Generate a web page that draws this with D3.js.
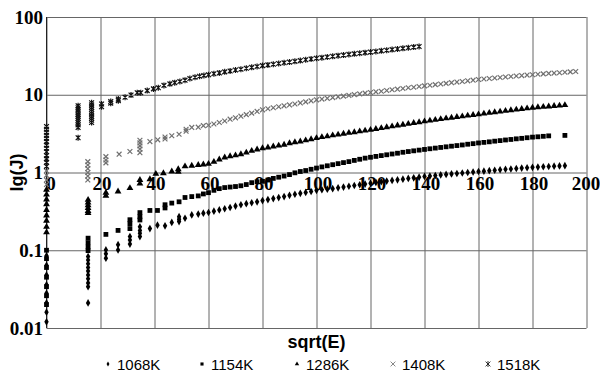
<!DOCTYPE html>
<html>
<head>
<meta charset="utf-8">
<script src="https://cdn.jsdelivr.net/npm/d3@7"></script>
<style>
  body { margin: 0; background: #fff; }
  svg { display: block; }
  .tick text { font-family: "Liberation Serif", "Times New Roman", serif; font-weight: bold; font-size: 19px; fill: #000; }
</style>
</head>
<body>
<div id="chart"></div>
<script>
const seriesNames = ['1068K', '1154K', '1286K', '1408K', '1518K'];
const xTicks = [0, 20, 40, 60, 80, 100, 120, 140, 160, 180, 200];
const yTicks = [0.01, 0.1, 1, 10, 100];
const yTickLabels = ['0.01', '0.1', '1', '10', '100'];

// sqrt(E) positions of the dense part, shared by all series
const xDense = [60, 62, 64, 66, 68, 70, 72, 74, 76, 78, 80, 82, 84, 86, 88, 90, 92, 94, 96, 98,
  100, 102, 104, 106, 108, 110, 112, 114, 116, 118, 120, 122, 124, 126, 128, 130, 132, 134, 136, 138,
  140, 142, 144, 146, 148, 150, 152, 154, 156, 158, 160, 162, 164, 166, 168, 170, 172, 174, 176, 178,
  180, 182, 184, 186, 188, 190, 192, 194, 196];

// scattered low-energy points [sqrt(E), J]
const early1068 = [[0, 0.085], [0, 0.064], [0, 0.048], [0, 0.036], [0, 0.028], [0, 0.021], [0, 0.016], [0, 0.012],
  [15.4, 0.083], [15.4, 0.075], [15.4, 0.067], [15.4, 0.06], [15.4, 0.054], [15.4, 0.048], [15.4, 0.043], [15.4, 0.038], [15.4, 0.034], [15.4, 0.021],
  [22, 0.101], [22, 0.09], [22, 0.079], [26.5, 0.118], [26.5, 0.101], [30.9, 0.15], [30.9, 0.135], [30.9, 0.12],
  [34.6, 0.2], [34.6, 0.18], [34.6, 0.165], [34.6, 0.15], [38.3, 0.19], [41.1, 0.21], [43.9, 0.206], [46.4, 0.228],
  [49.1, 0.27], [49.1, 0.25], [49.1, 0.234], [51.3, 0.258], [53.8, 0.285], [56.2, 0.292], [58.1, 0.3]];
const early1154 = [[0, 0.1], [0, 0.078], [0, 0.06], [0, 0.045], [0, 0.034], [0, 0.026], [0, 0.02],
  [15.4, 0.143], [15.4, 0.125], [15.4, 0.11], [15.4, 0.099],
  [22, 0.16], [26.5, 0.18], [30.9, 0.247], [30.9, 0.22], [30.9, 0.19], [34.6, 0.305], [34.6, 0.27], [34.6, 0.245],
  [38.3, 0.325], [41.1, 0.325], [43.9, 0.385], [43.9, 0.35], [46.4, 0.404], [49.1, 0.42], [51.3, 0.477],
  [53.8, 0.49], [56.2, 0.5], [58.1, 0.53], [192, 3.0]];
const early1286 = [[0, 0.6], [0, 0.52], [0, 0.45], [0, 0.39], [0, 0.33], [0, 0.28], [0, 0.24], [0, 0.2], [0, 0.17],
  [15.4, 0.445], [15.4, 0.41], [15.4, 0.38], [15.4, 0.35], [15.4, 0.32], [15.4, 0.3],
  [22, 0.55], [22, 0.5], [26.5, 0.57], [30.9, 0.63], [34.6, 0.8], [34.6, 0.72], [38.3, 0.82], [40.5, 0.96],
  [43.3, 0.98], [46.4, 1.03], [48.8, 1.1], [48.8, 1.02], [51.3, 1.2], [53.8, 1.22], [56.2, 1.25], [58.1, 1.27]];
const early1408 = [[0, 1.05], [0, 0.92], [0, 0.8], [0, 0.7],
  [15.3, 1.38], [15.3, 1.25], [15.3, 1.12], [15.3, 1.0], [15.3, 0.9], [15.3, 0.8],
  [22, 1.6], [22, 1.45], [22, 1.33], [26.9, 1.72], [30.9, 1.86],
  [34.6, 2.6], [34.6, 2.4], [34.6, 2.2], [34.6, 2.0], [34.6, 1.8], [38.3, 2.5], [41.2, 2.63],
  [43.9, 2.86], [43.9, 2.7], [46.4, 2.97], [49.1, 3.1], [51.7, 3.6], [51.7, 3.4], [53.8, 3.8], [56.2, 3.83], [58.1, 4.0]];
const early1518 = [[0, 3.9], [0, 3.6], [0, 3.3], [0, 3.0], [0, 2.75], [0, 2.5], [0, 2.25], [0, 2.05], [0, 1.85], [0, 1.65], [0, 1.5], [0, 1.35], [0, 1.2],
  [11.7, 7.2], [11.7, 6.8], [11.7, 6.4], [11.7, 6.0], [11.7, 5.6], [11.7, 5.3], [11.7, 5.0], [11.7, 4.7], [11.7, 4.4], [11.7, 4.1], [11.7, 3.8], [11.7, 2.8],
  [16.7, 7.9], [16.7, 7.4], [16.7, 6.9], [16.7, 6.5], [16.7, 6.1], [16.7, 5.7], [16.7, 5.3], [16.7, 5.0], [16.7, 4.7], [16.7, 4.4],
  [20.4, 7.6], [20.4, 7.0], [23.8, 8.2], [23.8, 7.8], [26.6, 8.8], [26.6, 8.4], [29.1, 9.3], [31.3, 9.9], [33.6, 10.6],
  [34.9, 10.6], [37.3, 11.3], [39.6, 11.9], [41.4, 12.3], [43.5, 13.2], [45.7, 13.8], [47.5, 14.3], [49.4, 14.8],
  [51.3, 15.4], [53.1, 16.2], [55, 16.8], [56.7, 17.3], [58.3, 17.7]];

// J values along xDense
const dense1068 = [0.306, 0.318, 0.33, 0.342, 0.355, 0.37, 0.385, 0.397, 0.408, 0.42, 0.435, 0.448, 0.462, 0.476, 0.49, 0.508, 0.525, 0.54, 0.555, 0.57,
  0.59, 0.6, 0.61, 0.62, 0.635, 0.65, 0.665, 0.68, 0.695, 0.71, 0.73, 0.745, 0.76, 0.775, 0.79, 0.805, 0.82, 0.84, 0.855, 0.87,
  0.89, 0.9, 0.915, 0.93, 0.945, 0.96, 0.97, 0.985, 1.0, 1.015, 1.03, 1.04, 1.055, 1.07, 1.085, 1.1, 1.11, 1.125, 1.14, 1.15,
  1.165, 1.175, 1.185, 1.195, 1.205, 1.215, 1.225];
const dense1154 = [0.55, 0.59, 0.62, 0.64, 0.65, 0.66, 0.675, 0.7, 0.74, 0.76, 0.77, 0.8, 0.84, 0.87, 0.9, 0.94, 0.99, 1.03, 1.06, 1.1,
  1.14, 1.18, 1.22, 1.26, 1.3, 1.34, 1.38, 1.43, 1.48, 1.53, 1.57, 1.61, 1.65, 1.69, 1.73, 1.77, 1.82, 1.86, 1.9, 1.94,
  1.98, 2.02, 2.06, 2.1, 2.14, 2.18, 2.22, 2.26, 2.31, 2.35, 2.4, 2.44, 2.48, 2.53, 2.57, 2.62, 2.66, 2.71, 2.75, 2.8,
  2.85, 2.88, 2.92, 2.96];
const dense1286 = [1.29, 1.37, 1.47, 1.56, 1.62, 1.66, 1.72, 1.8, 1.9, 1.98, 2.05, 2.1, 2.16, 2.22, 2.28, 2.38, 2.45, 2.51, 2.59, 2.68,
  2.77, 2.85, 2.92, 3.0, 3.07, 3.15, 3.23, 3.3, 3.38, 3.46, 3.54, 3.63, 3.72, 3.82, 3.92, 4.02, 4.12, 4.22, 4.33, 4.44,
  4.55, 4.65, 4.76, 4.86, 4.97, 5.07, 5.18, 5.28, 5.39, 5.5, 5.6, 5.72, 5.84, 5.96, 6.08, 6.2, 6.32, 6.44, 6.56, 6.68,
  6.8, 6.9, 6.98, 7.07, 7.16, 7.25, 7.35];
const dense1408 = [4.05, 4.2, 4.4, 4.6, 4.85, 5.05, 5.3, 5.55, 5.8, 6.1, 6.4, 6.6, 6.8, 7.0, 7.2, 7.4, 7.6, 7.85, 8.1, 8.35,
  8.6, 8.8, 9.0, 9.2, 9.4, 9.6, 9.8, 10.05, 10.25, 10.5, 10.7, 10.9, 11.1, 11.35, 11.6, 11.8, 12.05, 12.3, 12.5, 12.75,
  13.0, 13.25, 13.5, 13.75, 14.0, 14.3, 14.55, 14.8, 15.1, 15.4, 15.7, 15.95, 16.2, 16.4, 16.65, 16.9, 17.15, 17.4, 17.65, 17.9,
  18.1, 18.35, 18.55, 18.8, 19.0, 19.2, 19.45, 19.7, 19.9];
const dense1518 = [18.1, 18.6, 19.1, 19.7, 20.2, 20.8, 21.3, 21.9, 22.5, 23.1, 23.7, 24.2, 24.7, 25.2, 25.8, 26.3, 26.9, 27.5, 28.2, 28.8,
  29.5, 30.0, 30.6, 31.2, 31.8, 32.4, 33.0, 33.6, 34.2, 34.8, 35.4, 36.0, 36.7, 37.4, 38.1, 38.8, 39.5, 40.2, 41.0, 41.7];

const width = 600;
const height = 379;
const plotLeft = 46.5, plotRight = 586.5, plotTop = 17, plotBottom = 328;

const svg = d3.select('#chart').append('svg').attr('width', width).attr('height', height);
svg.append('rect').attr('width', width).attr('height', height).attr('fill', '#fff');

const scaleX = d3.scaleLinear().domain([0, 200]).range([plotLeft, plotRight]);
const scaleY = d3.scaleLog().domain([0.01, 100]).range([plotBottom, plotTop]);

// grid
const xGrid = d3.axisBottom(scaleX).tickValues(xTicks).tickSize(-(plotBottom - plotTop)).tickFormat('');
svg.append('g').attr('class', 'x-grid').attr('transform', 'translate(0,' + plotBottom + ')').call(xGrid);
const yAxis = d3.axisLeft(scaleY).tickValues(yTicks).tickSize(-(plotRight - plotLeft)).tickPadding(3.5)
  .tickFormat((d, i) => yTickLabels[i]);
svg.append('g').attr('class', 'y-axis').attr('transform', 'translate(' + plotLeft + ',0)').call(yAxis);
svg.selectAll('.x-grid .domain, .y-axis .domain').remove();
svg.selectAll('.x-grid line, .y-axis line').attr('stroke', '#666').attr('stroke-width', 1);
svg.append('line').attr('x1', plotLeft).attr('x2', plotLeft).attr('y1', plotTop).attr('y2', plotBottom).attr('stroke', '#222');

// x labels sit on the J = 1 line
const xAxis = d3.axisBottom(scaleX).tickValues(xTicks).tickSize(0).tickPadding(4).tickFormat(d3.format('d'));
svg.append('g').attr('class', 'x-axis').attr('transform', 'translate(0,' + scaleY(1) + ')').call(xAxis);
svg.selectAll('.x-axis .domain').remove();
svg.selectAll('.x-axis text').attr('dx', d => d === 0 ? 4 : (d === 200 ? -1 : 1));

svg.append('text').attr('x', (plotLeft + plotRight) / 2).attr('y', 348).attr('text-anchor', 'middle')
  .style('font-family', '"Liberation Sans", Arial, sans-serif').style('font-weight', 'bold').style('font-size', '18px')
  .text('sqrt(E)');
svg.append('text').attr('transform', 'translate(23,' + scaleY(1) + ') rotate(-90)').attr('text-anchor', 'middle')
  .style('font-family', '"Liberation Sans", Arial, sans-serif').style('font-weight', 'bold').style('font-size', '18px')
  .text('lg(J)');

const shapes = {
  '1068K': { type: d3.symbolDiamond, size: 17, fill: '#000' },
  '1154K': { type: d3.symbolSquare, size: 23, fill: '#000' },
  '1286K': { type: d3.symbolTriangle, size: 20, fill: '#000' },
  '1408K': { path: 'M-2.4,-2.4L2.4,2.4M-2.4,2.4L2.4,-2.4', stroke: '#707070', width: 1.2 },
  '1518K': { path: 'M-2.4,-2.4L2.4,2.4M-2.4,2.4L2.4,-2.4M0,-3L0,3', stroke: '#111', width: 1.2 }
};
const earlyData = [early1068, early1154, early1286, early1408, early1518];
const denseData = [dense1068, dense1154, dense1286, dense1408, dense1518];

function markerPath(name, k) {
  const s = shapes[name];
  if (s.type) return d3.symbol().type(s.type).size(s.size * k * k)();
  return s.path;
}
function styleMarker(sel, name, k) {
  const s = shapes[name];
  if (s.type) sel.attr('fill', s.fill).attr('stroke', 'none');
  else sel.attr('fill', 'none').attr('stroke', s.stroke).attr('stroke-width', s.width * k);
}

seriesNames.forEach(function(name, si) {
  const data = earlyData[si].map(p => ({ x: p[0], y: p[1] }))
    .concat(denseData[si].map((v, i) => ({ x: xDense[i], y: v })));
  const g = svg.append('g').attr('class', 's' + name);
  const m = g.selectAll('path').data(data).enter().append('path')
    .attr('d', markerPath(name, 1))
    .attr('transform', d => 'translate(' + scaleX(d.x) + ',' + scaleY(d.y) + ')');
  styleMarker(m, name, 1);
});

// legend
const legendX = [108, 202, 297, 393, 488];
const legend = svg.append('g').attr('class', 'legend');
seriesNames.forEach(function(name, i) {
  const mk = legend.append('path').attr('d', markerPath(name, 0.65))
    .attr('transform', 'translate(' + legendX[i] + ',364)');
  styleMarker(mk, name, 0.7);
  legend.append('text').attr('x', legendX[i] + 9).attr('y', 369.5)
    .style('font-family', '"Liberation Sans", Arial, sans-serif').style('font-size', '15px').attr('fill', '#000')
    .text(name);
});
</script>
</body>
</html>
